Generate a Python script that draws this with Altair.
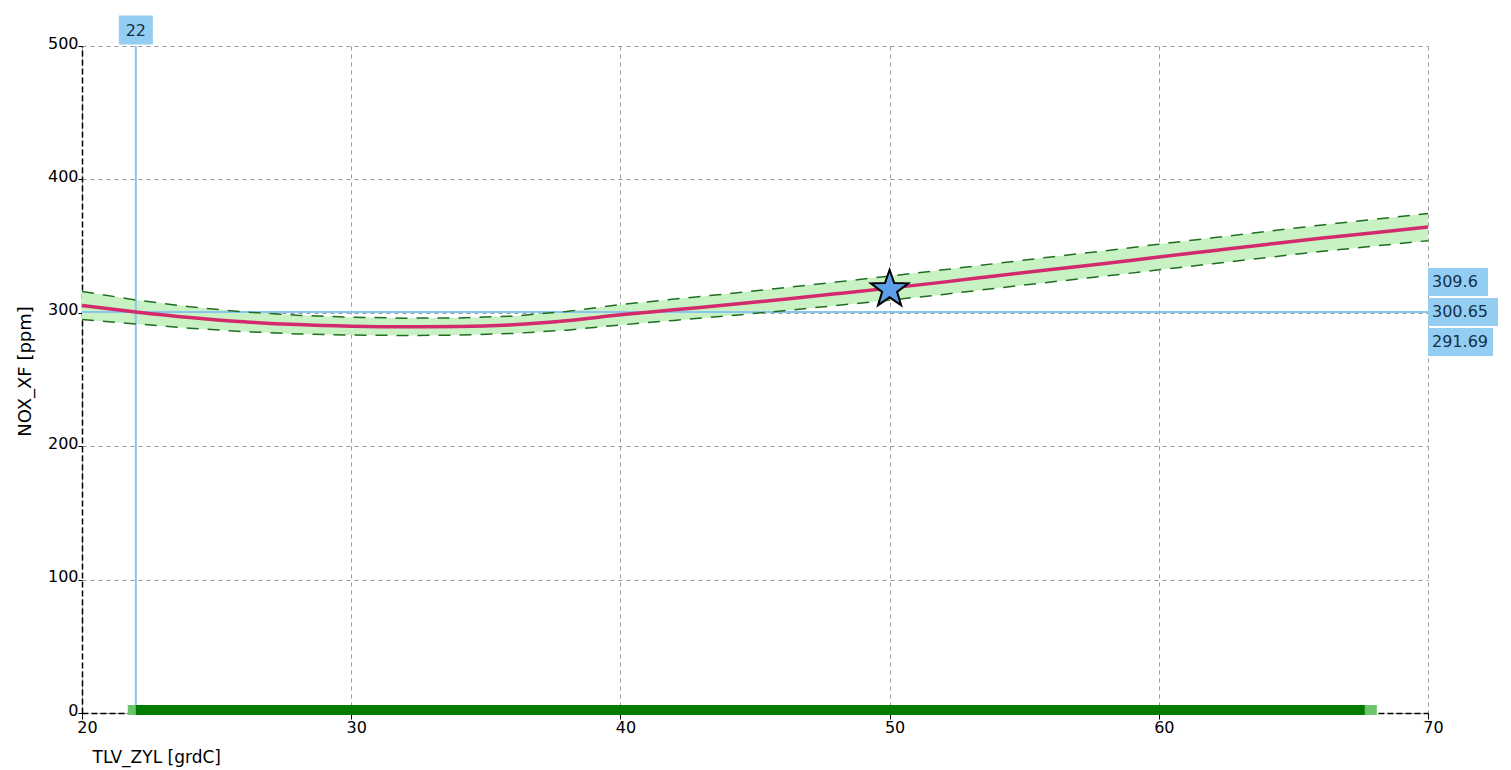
import altair as alt
import pandas as pd

# ---- data ----
x_vals = [20, 22, 24, 26, 28, 30, 32, 34, 36, 38, 40, 42, 44, 46, 48, 50,
          52, 54, 56, 58, 60, 62, 64, 66, 68, 70]
nox_mid = [305.5, 300.65, 296.5, 293.3, 291.2, 290.0, 289.5, 289.7, 291.0, 294.0,
           298.5, 302.3, 306.0, 310.0, 314.2, 318.5, 323.0, 327.8, 332.5, 337.0,
           341.8, 346.5, 351.2, 355.8, 360.0, 364.3]
nox_upper = [316.0, 309.6, 304.5, 300.7, 298.2, 296.7, 296.0, 296.1, 297.5, 301.0,
             306.1, 310.3, 314.3, 318.6, 323.0, 327.5, 332.2, 337.1, 341.9, 346.5,
             351.4, 356.2, 361.0, 365.7, 370.0, 374.5]
nox_lower = [295.0, 291.69, 288.5, 285.9, 284.2, 283.3, 283.0, 283.3, 284.5, 287.0,
             290.9, 294.3, 297.7, 301.4, 305.4, 309.5, 313.8, 318.5, 323.1, 327.5,
             332.2, 336.8, 341.4, 345.9, 350.0, 354.1]

cursor_x = 22
cursor_y = 300.65
cursor_hi = 309.6
cursor_lo = 291.69
star_x = 50
star_y = 317.5
range_light = [21.7, 68.1]
range_dark = [22.0, 67.65]

x_ticks = [20, 30, 40, 50, 60, 70]
y_ticks = [0, 100, 200, 300, 400, 500]

W, H = 1346, 667
FONT = "DejaVu Sans"
BOX = "#93cdf1"
BOXTXT = "#14304a"

df = pd.DataFrame({"x": x_vals, "mid": nox_mid, "up": nox_upper, "lo": nox_lower})

xscale = alt.Scale(domain=[20, 70], nice=False, zero=False)
yscale = alt.Scale(domain=[0, 500], nice=False)

xaxis = alt.Axis(values=x_ticks, title="TLV_ZYL  [grdC]", grid=True,
                 gridDash=[4, 4], gridColor="#9a9a9a", gridWidth=1,
                 domainColor="black", domainDash=[6, 3], domainWidth=1.5,
                 tickColor="black", tickSize=6, labelFont=FONT, labelFontSize=16,
                 labelColor="black", labelPadding=0, labelOffset=5, labelFlush=False,
                 titleFont=FONT, titleFontSize=17, titleFontWeight="normal",
                 titleColor="black", titleAnchor="start", titleAlign="left",
                 titleX=10, titleY=44, titleBaseline="middle")
yaxis = alt.Axis(values=y_ticks, title="NOX_XF  [ppm]", grid=True,
                 gridDash=[4, 4], gridColor="#9a9a9a", gridWidth=1,
                 domainColor="black", domainDash=[6, 3], domainWidth=1.5,
                 tickColor="black", tickSize=4, labelFont=FONT, labelFontSize=16,
                 labelColor="black", labelPadding=0, labelOffset=-3, labelFlush=False,
                 titleFont=FONT, titleFontSize=18, titleFontWeight="normal",
                 titleColor="black", titleAngle=270, titleX=-57, titleY=325,
                 titleAlign="center", titleBaseline="middle")

base = alt.Chart(df)

band = base.mark_area(color="#c8f2c4", opacity=1).encode(
    x=alt.X("x:Q", scale=xscale, axis=xaxis),
    y=alt.Y("up:Q", scale=yscale, axis=yaxis),
    y2="lo:Q",
)

cur_df = pd.DataFrame({"cx": [cursor_x], "cy": [cursor_y], "x0": [20], "x1": [70],
                       "y0": [0], "y1": [500]})
cur = alt.Chart(cur_df)
vline = cur.mark_rule(color="#8ac6ec", strokeWidth=2).encode(
    x="cx:Q", y="y0:Q", y2="y1:Q")
hline = cur.mark_rule(color="#8ac6ec", strokeWidth=2).encode(
    x="x0:Q", x2="x1:Q", y="cy:Q")

upper_line = base.mark_line(color="#1f6e1f", strokeWidth=1.5, strokeDash=[12, 9]).encode(
    x="x:Q", y="up:Q")
lower_line = base.mark_line(color="#1f6e1f", strokeWidth=1.5, strokeDash=[12, 9]).encode(
    x="x:Q", y="lo:Q")
mid_line = base.mark_line(color="#d22a6c", strokeWidth=3.5, interpolate="monotone").encode(
    x="x:Q", y="mid:Q")

star_path = ("M0,-1L0.235,-0.324L0.951,-0.309L0.38,0.124L0.588,0.809L0,0.4"
             "L-0.588,0.809L-0.38,0.124L-0.951,-0.309L-0.235,-0.324Z")
star = alt.Chart(pd.DataFrame({"sx": [star_x], "sy": [star_y]})).mark_point(
    shape=star_path, size=1550, filled=True, fill="#5d9fe6", stroke="black",
    strokeWidth=2, opacity=1).encode(x="sx:Q", y="sy:Q")

bar_df = pd.DataFrame({"a": [range_light[0]], "b": [range_light[1]],
                       "c": [range_dark[0]], "d": [range_dark[1]], "z": [0]})
bar_light = alt.Chart(bar_df).mark_rule(color="#6cc46c", strokeWidth=10, yOffset=-3).encode(
    x="a:Q", x2="b:Q", y="z:Q")
bar_dark = alt.Chart(bar_df).mark_rule(color="#007c00", strokeWidth=10, yOffset=-3).encode(
    x="c:Q", x2="d:Q", y="z:Q")

# cursor label boxes
top_df = pd.DataFrame({"cx": [cursor_x], "ty": [500], "t": [str(cursor_x)]})
top_box = alt.Chart(top_df).mark_rect(color=BOX, width=34, height=29, yOffset=-16).encode(
    x="cx:Q", y="ty:Q")
top_txt = alt.Chart(top_df).mark_text(font=FONT, fontSize=16, color=BOXTXT, dy=-15).encode(
    x="cx:Q", y="ty:Q", text="t:N")

layers = [band, vline, hline, upper_line, lower_line, mid_line, star,
          bar_light, bar_dark, top_box, top_txt]

for val, label, off, w in [(cursor_hi, "309.6", -30, 60),
                           (cursor_y, "300.65", 0, 70),
                           (cursor_lo, "291.69", 30, 65)]:
    d = pd.DataFrame({"rx": [70], "ry": [cursor_y], "t": [label]})
    layers.append(alt.Chart(d).mark_rect(color=BOX, width=w, height=28,
                                         xOffset=w / 2, yOffset=off).encode(
        x="rx:Q", y="ry:Q"))
    layers.append(alt.Chart(d).mark_text(font=FONT, fontSize=16, color=BOXTXT,
                                         align="left", dx=4, dy=off).encode(
        x="rx:Q", y="ry:Q", text="t:N"))

chart = alt.layer(*layers).properties(
    width=W, height=H,
    autosize=alt.AutoSizeParams(type="none"),
    padding={"left": 74, "top": 38, "right": 74, "bottom": 57},
    background="white",
).configure_view(stroke=None)

chart.save("out.html", embed_options={"renderer": "svg", "actions": False})
